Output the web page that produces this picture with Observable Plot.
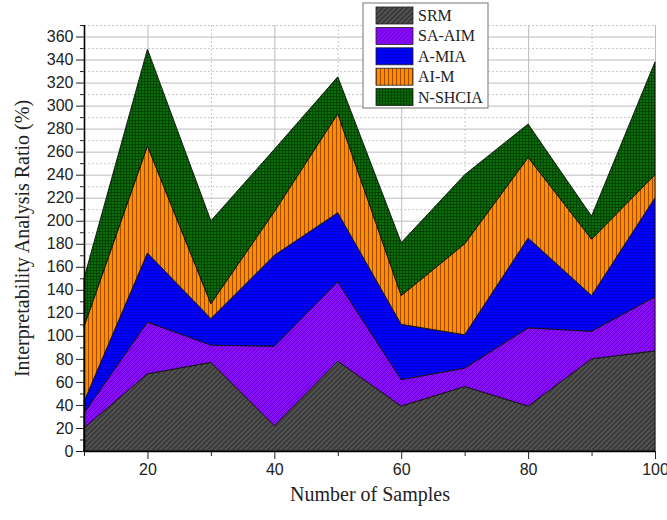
<!DOCTYPE html>
<html>
<head>
<meta charset="utf-8">
<script src="https://cdn.jsdelivr.net/npm/d3@7"></script>
<script src="https://cdn.jsdelivr.net/npm/@observablehq/plot@0.6"></script>
<style>
  html, body { margin: 0; padding: 0; background: #fff; }
  #chart { position: relative; width: 667px; height: 520px; }
</style>
</head>
<body>
<div id="chart"></div>
<script>
const samples = [10, 20, 30, 40, 50, 60, 70, 80, 90, 100];
const seriesNames = ["SRM", "SA-AIM", "A-MIA", "AI-M", "N-SHCIA"];
const srm    = [20, 67, 77, 22, 78, 39, 56, 39, 80, 87];
const saAim  = [13, 45, 15, 69, 69, 23, 16, 68, 24, 47];
const aMia   = [10, 60, 23, 79, 60, 48, 29, 78, 31, 86];
const aiM    = [65, 93, 13, 38, 86, 25, 79, 70, 49, 20];
const nShcia = [42, 84, 72, 54, 32, 46, 60, 29, 20, 98];
const yMajorTicks = d3.range(0, 361, 20);
const yMinorTicks = d3.range(10, 371, 20);
const xMajorTicks = [20, 40, 60, 80, 100];
const xMinorTicks = [10, 30, 50, 70, 90];

const seriesValues = [srm, saAim, aMia, aiM, nShcia];
const patternIds = ["pSRM", "pSA", "pAMIA", "pAIM", "pN"];
const data = [];
seriesNames.forEach((name, si) => {
  samples.forEach((x, i) => data.push({x, series: name, value: seriesValues[si][i]}));
});

const serif = "'Liberation Serif', 'Times New Roman', serif";

const svg = Plot.plot({
  width: 667,
  height: 520,
  marginLeft: 84,
  marginRight: 12,
  marginTop: 25,
  marginBottom: 69,
  style: {background: "white", fontFamily: "'Liberation Sans', Arial, sans-serif", fontSize: "16px", color: "#222"},
  x: {domain: [10, 100]},
  y: {domain: [0, 370]},
  color: {domain: seriesNames, range: patternIds.map(id => `url(#${id})`)},
  marks: [
    Plot.gridY(yMinorTicks, {stroke: "#c8c8c8", strokeOpacity: 1, strokeDasharray: "2,2"}),
    Plot.gridY(yMajorTicks, {stroke: "#bdbdbd", strokeOpacity: 1}),
    Plot.gridX(xMinorTicks, {stroke: "#c8c8c8", strokeOpacity: 1, strokeDasharray: "2,2"}),
    Plot.gridX(xMajorTicks, {stroke: "#bdbdbd", strokeOpacity: 1}),
    Plot.areaY(data, {x: "x", y: "value", z: "series", fill: "series", stroke: "#111", strokeWidth: 0.9}),
    Plot.axisY(yMajorTicks, {tickSize: 8, tickPadding: 3, label: null, fontSize: 16}),
    Plot.axisY(yMinorTicks, {tickSize: 4, tickFormat: () => "", label: null}),
    Plot.axisX(xMajorTicks, {tickSize: 8, tickPadding: 4, label: null, fontSize: 16}),
    Plot.axisX(xMinorTicks, {tickSize: 5, tickFormat: () => "", label: null}),
    Plot.ruleX([10], {stroke: "#000", strokeWidth: 1.6}),
    Plot.ruleY([0], {stroke: "#000", strokeWidth: 1.6}),
    Plot.text(["Interpretability Analysis Ratio (%)"], {frameAnchor: "left", dx: -62, rotate: -90, textAnchor: "middle", fontFamily: serif, fontSize: 20, fill: "#222"}),
    Plot.text(["Number of Samples"], {frameAnchor: "bottom", dy: 49, textAnchor: "middle", fontFamily: serif, fontSize: 20, fill: "#222"})
  ]
});

const s = d3.select(svg);
const defs = s.insert("defs", ":first-child");
// SRM: dark gray with diagonal lighter hatch
let p = defs.append("pattern").attr("id", "pSRM").attr("patternUnits", "userSpaceOnUse").attr("width", 5).attr("height", 5);
p.append("rect").attr("width", 5).attr("height", 5).attr("fill", "#3b3b3b");
p.append("path").attr("d", "M0,5L5,0M-1,1L1,-1M4,6L6,4").attr("stroke", "#5c5c5c").attr("stroke-width", 1.2);
// SA-AIM: purple with diagonal darker hatch
p = defs.append("pattern").attr("id", "pSA").attr("patternUnits", "userSpaceOnUse").attr("width", 4).attr("height", 4);
p.append("rect").attr("width", 4).attr("height", 4).attr("fill", "#8a0cff");
p.append("path").attr("d", "M0,4L4,0M-1,1L1,-1M3,5L5,3").attr("stroke", "#5e00b8").attr("stroke-width", 0.9);
// A-MIA: blue with fine horizontal lines
p = defs.append("pattern").attr("id", "pAMIA").attr("patternUnits", "userSpaceOnUse").attr("width", 4).attr("height", 3);
p.append("rect").attr("width", 4).attr("height", 3).attr("fill", "#0000ff");
p.append("path").attr("d", "M0,0.5H4").attr("stroke", "#0000c0").attr("stroke-width", 0.8);
// AI-M: orange with vertical dark lines
p = defs.append("pattern").attr("id", "pAIM").attr("patternUnits", "userSpaceOnUse").attr("width", 4).attr("height", 4);
p.append("rect").attr("width", 4).attr("height", 4).attr("fill", "#ff8c00");
p.append("path").attr("d", "M0.5,0V4").attr("stroke", "#a14a00").attr("stroke-width", 1);
// N-SHCIA: green with fine grid
p = defs.append("pattern").attr("id", "pN").attr("patternUnits", "userSpaceOnUse").attr("width", 3).attr("height", 3);
p.append("rect").attr("width", 3).attr("height", 3).attr("fill", "#0a6e0a");
p.append("path").attr("d", "M0,0.5H3M0.5,0V3").attr("stroke", "#003c00").attr("stroke-width", 0.8);

// Legend (overlay inside the chart area, as in the reference)
const lg = s.append("g").attr("transform", "translate(363,3)");
lg.append("rect").attr("width", 125).attr("height", 105).attr("fill", "white").attr("stroke", "#8a8a8a").attr("stroke-width", 1.2);
seriesNames.forEach((name, i) => {
  const row = lg.append("g").attr("transform", `translate(13,${4 + i * 20.4})`);
  row.append("rect").attr("width", 37).attr("height", 17).attr("fill", `url(#${patternIds[i]})`).attr("stroke", "#222").attr("stroke-width", 0.8);
  row.append("text").attr("x", 42).attr("y", 14).attr("text-anchor", "start").attr("font-family", serif).attr("font-size", 16).attr("fill", "#222").text(name);
});

document.getElementById("chart").appendChild(svg);
</script>
</body>
</html>
